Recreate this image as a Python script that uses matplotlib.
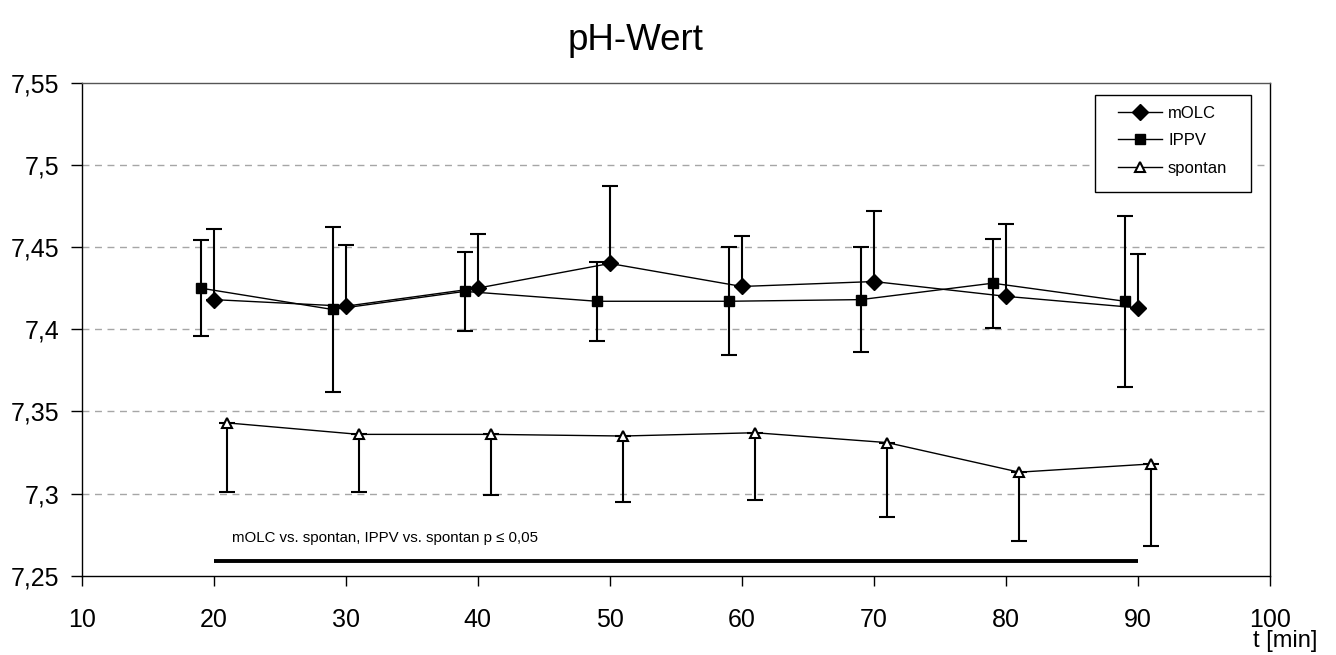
import numpy as np
import matplotlib
matplotlib.use("Agg")
import matplotlib.pyplot as plt
from matplotlib.ticker import FuncFormatter
from matplotlib.patches import Rectangle

plt.rcParams['font.family'] = ['Liberation Sans', 'DejaVu Sans']

# Daten
t_molc = [20, 30, 40, 50, 60, 70, 80, 90]
t_ippv = [19, 29, 39, 49, 59, 69, 79, 89]
t_spon = [21, 31, 41, 51, 61, 71, 81, 91]

ph_molc = [7.418, 7.414, 7.425, 7.440, 7.426, 7.429, 7.420, 7.413]
sd_molc = [0.043, 0.037, 0.033, 0.047, 0.031, 0.043, 0.044, 0.033]

ph_ippv = [7.425, 7.412, 7.423, 7.417, 7.417, 7.418, 7.428, 7.417]
sd_ippv = [0.029, 0.050, 0.024, 0.024, 0.033, 0.032, 0.027, 0.052]

ph_spon = [7.343, 7.336, 7.336, 7.335, 7.337, 7.331, 7.313, 7.318]
sd_spon = [0.042, 0.035, 0.037, 0.040, 0.041, 0.045, 0.042, 0.050]

x_ticks = [10, 20, 30, 40, 50, 60, 70, 80, 90, 100]
y_ticks = [7.25, 7.3, 7.35, 7.4, 7.45, 7.5, 7.55]

sig_von, sig_bis, sig_y = 20, 90, 7.259
sig_text = "mOLC vs. spontan, IPPV vs. spontan p \u2264 0,05"

W, H = 1336, 655
fig = plt.figure(figsize=(W / 100, H / 100), dpi=100)
ax = fig.add_axes([81.7 / W, 1 - 575.7 / H, (1270 - 81.7) / W, (575.7 - 82.7) / H])

for y in y_ticks[1:-1]:
    ax.axhline(y, color='#a6a6a6', lw=1, ls=(0, (5, 4)), zorder=0)

err_kw = dict(ecolor='black', elinewidth=1.5, capsize=6, capthick=1.5)

# mOLC: nur nach oben
ax.errorbar(t_molc, ph_molc, yerr=[np.zeros(len(sd_molc)), sd_molc], fmt='none', **err_kw, zorder=2)
ax.plot(t_molc, ph_molc, color='black', lw=1, marker='D', ms=8.5, mfc='black', mec='black', label='mOLC', zorder=3)

# IPPV: beidseitig
ax.errorbar(t_ippv, ph_ippv, yerr=sd_ippv, fmt='none', **err_kw, zorder=2)
ax.plot(t_ippv, ph_ippv, color='black', lw=1, marker='s', ms=7, mfc='black', mec='black', label='IPPV', zorder=3)

# spontan: nur nach unten
ax.errorbar(t_spon, ph_spon, yerr=[sd_spon, np.zeros(len(sd_spon))], fmt='none', **err_kw, zorder=2)
ax.plot(t_spon, ph_spon, color='black', lw=1, marker='^', ms=7.5, mfc='white', mec='black', mew=1.5,
        label='spontan', zorder=3)

# Signifikanzbalken
ax.plot([sig_von, sig_bis], [sig_y, sig_y], color='black', lw=2.8, solid_capstyle='butt', zorder=2)
ax.text(21.4, 7.2728, sig_text, fontsize=10.8, va='center', ha='left')

ax.set_xlim(10, 100)
ax.set_ylim(7.25, 7.55)
ax.set_xticks(x_ticks)
ax.set_yticks(y_ticks)
ax.yaxis.set_major_formatter(FuncFormatter(lambda v, p: ('%g' % round(v, 2)).replace('.', ',')))
ax.tick_params(axis='x', direction='out', length=7, width=1, labelsize=18, pad=16)
ax.tick_params(axis='y', direction='out', length=8, width=1, labelsize=18, pad=8)

for s in ['left', 'bottom', 'right']:
    ax.spines[s].set_color('black')
    ax.spines[s].set_linewidth(1)
ax.spines['top'].set_color('#555555')
ax.spines['top'].set_linewidth(1)

# Legende: Rahmen separat, damit die Innenabstaende passen
ax.add_patch(Rectangle((1095 / W, 1 - 192 / H), (1251 - 1095) / W, (192 - 95) / H,
                       transform=fig.transFigure, clip_on=False, facecolor='white',
                       edgecolor='black', lw=1, zorder=5))
leg = ax.legend(loc='upper left', bbox_to_anchor=(1118 / W, 1 - 105.5 / H), bbox_transform=fig.transFigure,
                borderaxespad=0, borderpad=0, frameon=False, fontsize=12,
                handlelength=2.64, handletextpad=0.36, labelspacing=0.75)
leg.set_zorder(6)

fig.text(636 / W, 1 - 40 / H, "pH-Wert", fontsize=26.5, ha='center', va='center')
fig.text(1285 / W, 1 - 641 / H, "t [min]", fontsize=17, ha='center', va='center')

fig.savefig('out.png', dpi=100)
